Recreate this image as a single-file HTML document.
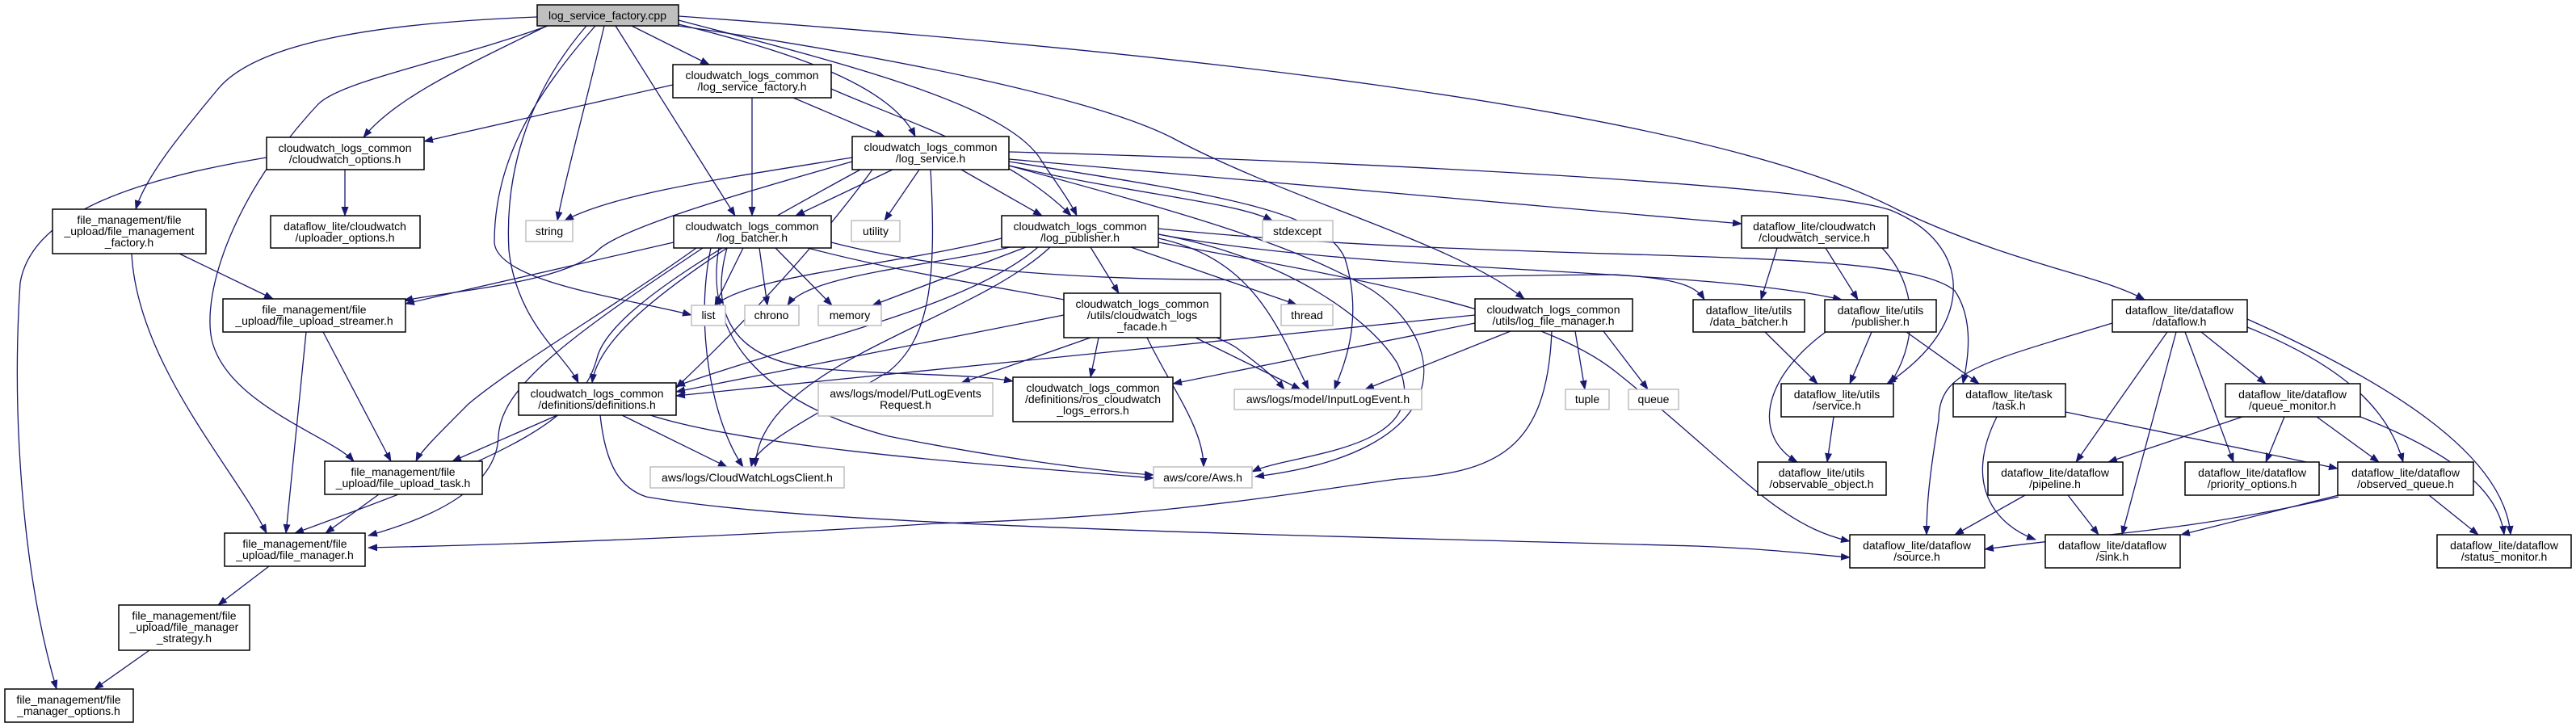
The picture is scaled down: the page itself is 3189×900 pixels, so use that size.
<!DOCTYPE html>
<html><head><meta charset="utf-8"><style>
html,body{margin:0;padding:0;background:#fff;}
svg{display:block;}
text{font-family:"Liberation Sans",sans-serif;font-size:14px;fill:#000;text-anchor:middle;}
.e{fill:none;stroke:#191970;stroke-width:1.3;}
.b{fill:#fff;stroke:#000;stroke-width:1.5;}
.g{fill:#fff;stroke:#bfbfbf;stroke-width:1.5;}
</style></head><body>
<svg width="3189" height="900" viewBox="0 0 3189 900" xmlns="http://www.w3.org/2000/svg">
<defs><marker id="a" markerWidth="12" markerHeight="9" refX="11" refY="4.5" orient="auto" markerUnits="userSpaceOnUse"><path d="M0,0 L12,4.5 L0,9 Z" fill="#191970"/></marker></defs>
<g class="e" marker-end="url(#a)">
<path d="M665,21 C480,28 320,50 270,110 C220,170 180,220 168,259"/>
<path d="M677,32 C580,80 490,120 450,170"/>
<path d="M678,32 C560,75 420,100 393,130 C290,240 250,360 262,420 C280,500 410,540 438,571"/>
<path d="M748,32 C725,130 700,220 690,273"/>
<path d="M737,32 C660,120 612,200 612,300 C615,350 780,370 856,390"/>
<path d="M726,32 C650,120 625,220 630,310 C640,400 700,440 716,474"/>
<path d="M762,32 L910,267"/>
<path d="M782,32 L878,80"/>
<path d="M840,30 C960,60 1100,100 1133,169"/>
<path d="M840,25 C1050,80 1250,130 1290,200 C1310,230 1325,250 1333,267"/>
<path d="M840,32 C1100,70 1350,120 1450,170 C1600,250 1800,300 1887,370"/>
<path d="M840,20 C1400,60 2100,130 2350,260 C2500,330 2600,340 2655,371"/>
<path d="M833,105 L525,175"/>
<path d="M931,121 L931,267"/>
<path d="M982,121 L1095,169"/>
<path d="M1029,110 C1120,150 1250,190 1326,267"/>
<path d="M427,210 L427,267"/>
<path d="M330,195 C180,220 40,260 25,350 C15,500 25,700 70,853"/>
<path d="M222,314 L338,370"/>
<path d="M163,314 C170,450 290,580 330,660"/>
<path d="M1055,195 C900,220 760,240 699,273"/>
<path d="M1105,210 L985,267"/>
<path d="M1138,210 L1095,273"/>
<path d="M1190,210 L1290,267"/>
<path d="M1249,205 C1400,240 1530,250 1575,273"/>
<path d="M1249,197 L2156,277"/>
<path d="M1249,188 C1700,200 2250,230 2340,260 C2440,300 2450,400 2336,475"/>
<path d="M1055,200 C950,230 770,280 740,310 C700,350 560,360 500,372"/>
<path d="M1249,200 C1500,240 1640,260 1665,320 C1690,400 1660,460 1652,482"/>
<path d="M1249,205 C1450,260 1600,300 1700,360 C1800,430 1800,560 1554,590"/>
<path d="M1152,210 C1160,350 1150,420 1100,460 C1000,520 935,550 930,578"/>
<path d="M1080,210 C1000,320 900,420 837,480"/>
<path d="M1065,210 C900,300 760,380 740,440 C720,520 640,560 365,660"/>
<path d="M920,307 L885,378"/>
<path d="M940,307 L950,378"/>
<path d="M960,307 L1030,378"/>
<path d="M834,300 L502,376"/>
<path d="M900,307 C820,360 740,420 733,474"/>
<path d="M862,307 C760,380 640,450 580,500 C540,540 520,560 515,571"/>
<path d="M870,307 C700,420 620,480 617,540 C615,610 520,645 456,663"/>
<path d="M880,307 C860,400 880,520 920,578"/>
<path d="M890,307 C870,420 950,500 1100,540 C1250,570 1380,585 1428,588"/>
<path d="M1000,307 C1200,360 1450,380 1530,430 C1570,460 1580,470 1590,482"/>
<path d="M1029,300 C1300,370 1700,340 2000,340 C2080,345 2100,355 2110,371"/>
<path d="M900,307 C880,380 900,440 1000,455 C1100,465 1200,462 1254,472"/>
<path d="M1240,295 C1100,330 930,340 885,378"/>
<path d="M1250,306 C1150,330 1000,340 975,378"/>
<path d="M1270,306 L1080,378"/>
<path d="M1400,306 L1605,377"/>
<path d="M1350,306 L1385,363"/>
<path d="M1285,306 C1200,380 1000,420 837,478"/>
<path d="M1300,306 C1200,400 940,450 935,578"/>
<path d="M1434,290 C1600,320 1700,400 1730,450 C1780,560 1600,560 1550,584"/>
<path d="M1434,295 C1550,320 1580,400 1620,482"/>
<path d="M1434,290 C1700,340 2100,330 2280,371"/>
<path d="M1434,283 C1900,330 2350,300 2420,360 C2440,390 2440,430 2430,475"/>
<path d="M1434,300 C1650,340 1900,380 2000,460 C2150,580 2200,650 2290,670"/>
<path d="M1350,418 L1190,474"/>
<path d="M1360,418 L1350,467"/>
<path d="M1480,418 L1610,482"/>
<path d="M1420,418 C1450,480 1490,530 1490,578"/>
<path d="M1317,390 L837,485"/>
<path d="M1950,410 L1962,482"/>
<path d="M1985,410 L2040,482"/>
<path d="M1870,410 L1690,482"/>
<path d="M1826,400 L1452,475"/>
<path d="M1826,390 L837,490"/>
<path d="M1921,410 C1915,560 1850,585 1730,593 C1600,610 1450,640 1160,648 C900,665 600,675 456,678"/>
<path d="M690,514 L560,571"/>
<path d="M770,514 L900,578"/>
<path d="M805,514 C950,560 1300,580 1428,592"/>
<path d="M743,514 C750,580 770,605 800,615 C1000,650 1500,660 2100,676 C2200,680 2260,688 2290,690"/>
<path d="M2200,307 L2180,371"/>
<path d="M2260,307 L2300,371"/>
<path d="M2330,307 C2380,360 2370,430 2340,475"/>
<path d="M2185,411 L2250,475"/>
<path d="M2317,411 L2290,475"/>
<path d="M2260,411 C2180,470 2170,540 2225,572"/>
<path d="M2360,411 L2450,475"/>
<path d="M2270,516 L2262,572"/>
<path d="M2472,516 C2430,600 2470,650 2520,668"/>
<path d="M2557,510 L2894,580"/>
<path d="M2615,400 C2450,450 2400,460 2400,520 C2390,580 2385,620 2385,662"/>
<path d="M2683,411 L2570,572"/>
<path d="M2694,411 L2627,662"/>
<path d="M2705,411 L2765,572"/>
<path d="M2725,411 L2805,475"/>
<path d="M2782,405 C2920,460 2960,520 2975,572"/>
<path d="M2782,395 C2950,470 3100,560 3108,662"/>
<path d="M2776,516 L2610,572"/>
<path d="M2828,516 L2805,572"/>
<path d="M2868,516 L2945,572"/>
<path d="M2922,516 C3060,570 3095,620 3100,662"/>
<path d="M2507,613 L2420,662"/>
<path d="M2560,613 L2598,662"/>
<path d="M2895,615 C2700,660 2600,660 2457,680"/>
<path d="M2895,613 L2700,662"/>
<path d="M3007,613 L3068,662"/>
<path d="M400,411 L484,571"/>
<path d="M379,411 L354,660"/>
<path d="M469,612 L403,660"/>
<path d="M333,701 L270,749"/>
<path d="M185,805 L117,853"/>
</g>
<g>
<rect x="665" y="6" width="175" height="26" fill="#bfbfbf" stroke="#000" stroke-width="1.5"/><text x="752" y="24">log_service_factory.cpp</text>
<rect class="b" x="833" y="80" width="196" height="41"/><text x="931" y="98">cloudwatch_logs_common</text><text x="931" y="112">/log_service_factory.h</text>
<rect class="b" x="330" y="170" width="195" height="40"/><text x="427" y="188">cloudwatch_logs_common</text><text x="427" y="202">/cloudwatch_options.h</text>
<rect class="b" x="1055" y="169" width="194" height="41"/><text x="1152" y="187">cloudwatch_logs_common</text><text x="1152" y="201">/log_service.h</text>
<rect class="b" x="65" y="259" width="190" height="55"/><text x="160" y="277">file_management/file</text><text x="160" y="291">_upload/file_management</text><text x="160" y="305">_factory.h</text>
<rect class="b" x="335" y="267" width="185" height="40"/><text x="427" y="285">dataflow_lite/cloudwatch</text><text x="427" y="299">/uploader_options.h</text>
<rect class="g" x="651" y="273" width="58" height="26"/><text x="680" y="291">string</text>
<rect class="b" x="834" y="267" width="195" height="40"/><text x="931" y="285">cloudwatch_logs_common</text><text x="931" y="299">/log_batcher.h</text>
<rect class="g" x="1054" y="273" width="60" height="26"/><text x="1084" y="291">utility</text>
<rect class="b" x="1240" y="267" width="194" height="39"/><text x="1337" y="285">cloudwatch_logs_common</text><text x="1337" y="299">/log_publisher.h</text>
<rect class="g" x="1563" y="273" width="87" height="26"/><text x="1606" y="291">stdexcept</text>
<rect class="b" x="2156" y="267" width="181" height="40"/><text x="2246" y="285">dataflow_lite/cloudwatch</text><text x="2246" y="299">/cloudwatch_service.h</text>
<rect class="b" x="276" y="370" width="226" height="41"/><text x="389" y="388">file_management/file</text><text x="389" y="402">_upload/file_upload_streamer.h</text>
<rect class="g" x="856" y="378" width="42" height="25"/><text x="877" y="395">list</text>
<rect class="g" x="922" y="378" width="67" height="25"/><text x="955" y="395">chrono</text>
<rect class="g" x="1013" y="378" width="78" height="25"/><text x="1052" y="395">memory</text>
<rect class="b" x="1317" y="363" width="194" height="55"/><text x="1414" y="381">cloudwatch_logs_common</text><text x="1414" y="395">/utils/cloudwatch_logs</text><text x="1414" y="409">_facade.h</text>
<rect class="g" x="1586" y="377" width="64" height="26"/><text x="1618" y="395">thread</text>
<rect class="b" x="1826" y="370" width="195" height="40"/><text x="1923" y="388">cloudwatch_logs_common</text><text x="1923" y="402">/utils/log_file_manager.h</text>
<rect class="b" x="2096" y="371" width="138" height="40"/><text x="2165" y="389">dataflow_lite/utils</text><text x="2165" y="403">/data_batcher.h</text>
<rect class="b" x="2259" y="371" width="138" height="40"/><text x="2328" y="389">dataflow_lite/utils</text><text x="2328" y="403">/publisher.h</text>
<rect class="b" x="2615" y="371" width="167" height="40"/><text x="2698" y="389">dataflow_lite/dataflow</text><text x="2698" y="403">/dataflow.h</text>
<rect class="b" x="642" y="474" width="195" height="40"/><text x="739" y="492">cloudwatch_logs_common</text><text x="739" y="506">/definitions/definitions.h</text>
<rect class="g" x="1013" y="474" width="216" height="41"/><text x="1121" y="492">aws/logs/model/PutLogEvents</text><text x="1121" y="506">Request.h</text>
<rect class="b" x="1254" y="467" width="198" height="55"/><text x="1353" y="485">cloudwatch_logs_common</text><text x="1353" y="499">/definitions/ros_cloudwatch</text><text x="1353" y="513">_logs_errors.h</text>
<rect class="g" x="1528" y="482" width="232" height="25"/><text x="1644" y="499">aws/logs/model/InputLogEvent.h</text>
<rect class="g" x="1938" y="482" width="54" height="25"/><text x="1965" y="499">tuple</text>
<rect class="g" x="2016" y="482" width="62" height="25"/><text x="2047" y="499">queue</text>
<rect class="b" x="2205" y="475" width="139" height="41"/><text x="2274" y="493">dataflow_lite/utils</text><text x="2274" y="507">/service.h</text>
<rect class="b" x="2418" y="475" width="139" height="41"/><text x="2487" y="493">dataflow_lite/task</text><text x="2487" y="507">/task.h</text>
<rect class="b" x="2755" y="475" width="167" height="41"/><text x="2838" y="493">dataflow_lite/dataflow</text><text x="2838" y="507">/queue_monitor.h</text>
<rect class="b" x="402" y="571" width="195" height="41"/><text x="499" y="589">file_management/file</text><text x="499" y="603">_upload/file_upload_task.h</text>
<rect class="g" x="805" y="578" width="240" height="26"/><text x="925" y="596">aws/logs/CloudWatchLogsClient.h</text>
<rect class="g" x="1428" y="578" width="122" height="26"/><text x="1489" y="596">aws/core/Aws.h</text>
<rect class="b" x="2176" y="572" width="159" height="41"/><text x="2255" y="590">dataflow_lite/utils</text><text x="2255" y="604">/observable_object.h</text>
<rect class="b" x="2461" y="572" width="167" height="41"/><text x="2544" y="590">dataflow_lite/dataflow</text><text x="2544" y="604">/pipeline.h</text>
<rect class="b" x="2705" y="572" width="166" height="41"/><text x="2788" y="590">dataflow_lite/dataflow</text><text x="2788" y="604">/priority_options.h</text>
<rect class="b" x="2894" y="572" width="168" height="41"/><text x="2978" y="590">dataflow_lite/dataflow</text><text x="2978" y="604">/observed_queue.h</text>
<rect class="b" x="278" y="660" width="174" height="41"/><text x="365" y="678">file_management/file</text><text x="365" y="692">_upload/file_manager.h</text>
<rect class="b" x="2290" y="662" width="167" height="41"/><text x="2373" y="680">dataflow_lite/dataflow</text><text x="2373" y="694">/source.h</text>
<rect class="b" x="2532" y="662" width="167" height="41"/><text x="2615" y="680">dataflow_lite/dataflow</text><text x="2615" y="694">/sink.h</text>
<rect class="b" x="3017" y="662" width="166" height="41"/><text x="3100" y="680">dataflow_lite/dataflow</text><text x="3100" y="694">/status_monitor.h</text>
<rect class="b" x="147" y="749" width="162" height="56"/><text x="228" y="767">file_management/file</text><text x="228" y="781">_upload/file_manager</text><text x="228" y="795">_strategy.h</text>
<rect class="b" x="6" y="853" width="159" height="41"/><text x="85" y="871">file_management/file</text><text x="85" y="885">_manager_options.h</text>
</g>
</svg>
</body></html>
